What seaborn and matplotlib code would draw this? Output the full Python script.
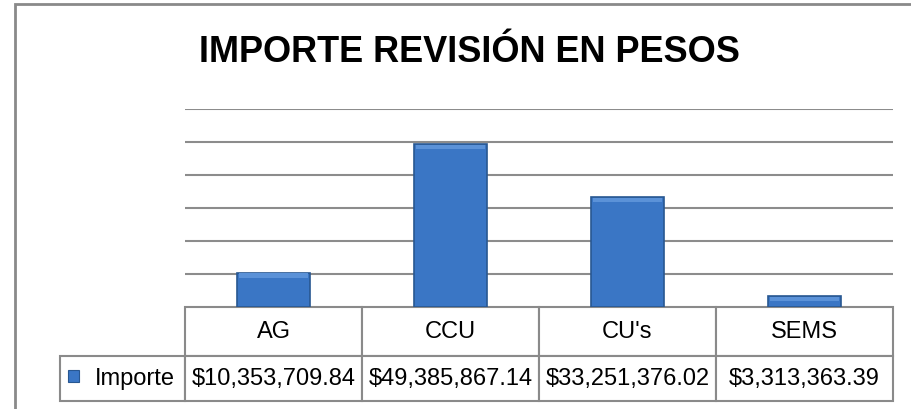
import numpy as np
import pandas as pd
import seaborn as sns
import matplotlib.pyplot as plt
from matplotlib.patches import Rectangle

# data
categories = ["AG", "CCU", "CU's", "SEMS"]
importe = [10353709.84, 49385867.14, 33251376.02, 3313363.39]
importe_labels = ["$10,353,709.84", "$49,385,867.14", "$33,251,376.02", "$3,313,363.39"]
series_name = "Importe"
title = "IMPORTE REVISIÓN EN PESOS"

df = pd.DataFrame({"Categoria": categories, series_name: importe})

sns.set_style("white")
plt.rcParams['font.family'] = ['Liberation Sans', 'DejaVu Sans']
plt.rcParams['text.color'] = 'black'

bar_color = "#3a76c5"
bar_edge = "#285791"
grid_color = "#8c8c8c"

fig = plt.figure(figsize=(9.12, 4.10), dpi=100)
ax = fig.add_axes([185 / 912, 102 / 410, 708 / 912, 198 / 410])

sns.barplot(data=df, x="Categoria", y=series_name, color=bar_color,
            saturation=1, width=0.41, edgecolor=bar_edge, linewidth=1.2,
            ax=ax, zorder=3)

ax.set_ylim(0, 60e6)
ax.set_xlim(-0.5, len(categories) - 0.5)
ax.set_yticks(np.arange(10e6, 60e6 + 1, 10e6))
ax.yaxis.grid(True, color=grid_color, linewidth=1.5)
ax.set_axisbelow(True)
ax.tick_params(left=False, bottom=False, labelleft=False, labelbottom=False)
ax.set_xlabel("")
ax.set_ylabel("")
for s in ax.spines.values():
    s.set_visible(False)

# soft light bevel along the top of each bar
strip = 60e6 / 198 * 5
for p in list(ax.patches):
    x0, w, h = p.get_x(), p.get_width(), p.get_height()
    sh = min(strip, h * 0.5)
    ax.add_patch(Rectangle((x0 + w * 0.02, h - sh), w * 0.96, sh * 0.9,
                           facecolor="#5b92d8", edgecolor="none", zorder=4))

# data table below the plot (first column holds the series name)
cell_text = [[""] + categories, [series_name] + importe_labels]
col_w = [125] + [177] * len(categories)
tbl = ax.table(cellText=cell_text, cellLoc="center", colWidths=col_w,
               bbox=[-125 / 708, -94 / 198, 833 / 708, 94 / 198])
tbl.auto_set_font_size(False)
tbl.set_fontsize(17)
for (r, c), cell in tbl.get_celld().items():
    cell.set_edgecolor("#8a8a8a")
    cell.set_linewidth(1.5)
    cell.get_text().set_color("black")
    cell.set_height(49 if r == 0 else 45)
    if r == 0 and c == 0:
        cell.visible_edges = ""
    if r == 1 and c == 0:
        cell.get_text().set_horizontalalignment("right")
        cell.PAD = 0.08

# legend key in the row label cell
ax.add_patch(Rectangle((-117 / 708, -75 / 198), 11 / 708, 12 / 198,
                       transform=ax.transAxes, clip_on=False, zorder=5,
                       facecolor=bar_color, edgecolor=bar_edge, lw=0.8))

fig.text(469 / 912, 1 - 52 / 410, title, ha="center", va="center",
         fontsize=26, fontweight="bold", color="black")

# outer chart frame (only left and top edges are in view)
fig.add_artist(Rectangle((15 / 912, -0.1), 1.2, 1 - 5 / 410 + 0.1,
                         transform=fig.transFigure, fill=False,
                         edgecolor="#8a8a8a", linewidth=2))

fig.savefig("out.png", dpi=100)
